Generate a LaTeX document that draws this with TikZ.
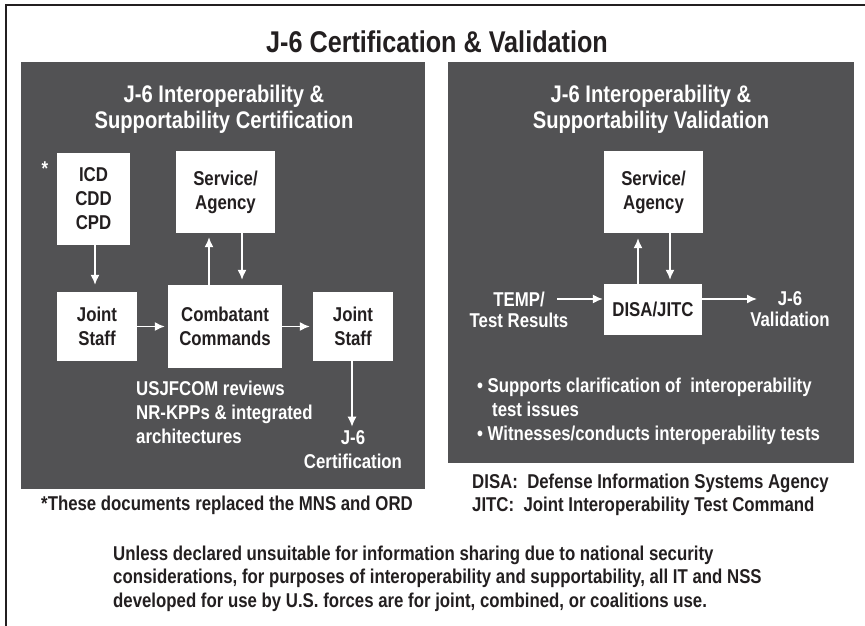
\documentclass[tikz,border=0pt]{standalone}
\usepackage{fontspec}
\setmainfont{Liberation Sans}[FakeStretch=0.84]
\usetikzlibrary{arrows.meta,positioning}
\definecolor{panelgray}{HTML}{525254}
\definecolor{ink}{HTML}{231F20}

\begin{document}
\begin{tikzpicture}[
x=1pt, y=-1pt,
font=\bfseries\fontsize{20}{24}\selectfont,
panel/.style={
  fill=panelgray,
  draw=none,
  inner sep=0pt,
  anchor=north west
  },
box/.style={
  fill=white,
  text=ink,
  align=center,
  inner sep=0pt
  },
lbl/.style={
  text=white,
  align=center,
  inner sep=0pt
  },
note/.style={
  text=ink,
  align=left,
  inner sep=0pt
  },
flow/.style={
  ->,
  draw=white,
  line width=1.5pt
  },
>={Latex[length=10pt,width=9pt]}
]
\useasboundingbox (0,0) rectangle (865,626);
\draw[ink, line width=2.5pt] (865,5) -- (6,5) -- (6,626);

\node[text=ink, font=\bfseries\fontsize{30}{36}\selectfont] (title) at (437,42)
  {J-6 Certification \& Validation};

% certification side
\node[panel, minimum width=404pt, minimum height=427pt] (certpanel) at (21,62) {};
\node[lbl, font=\bfseries\fontsize{24}{26}\selectfont] (certtitle) at (224,109)
  {J-6 Interoperability \&\\Supportability Certification};
\node[lbl] (star) at (45,169) {*};
\node[box, minimum width=73pt, minimum height=92pt] (docs) at (93.5,199) {ICD\\CDD\\CPD};
\node[box, minimum width=99pt, minimum height=82pt] (svcL) at (225.5,192) {Service/\\Agency};
\node[box, minimum width=80pt, minimum height=69pt] (staffL) at (97,326.5) {Joint\\Staff};
\node[box, minimum width=114pt, minimum height=83pt] (cocom) at (225,326.5) {Combatant\\Commands};
\node[box, minimum width=80pt, minimum height=69pt] (staffR) at (353,326.5) {Joint\\Staff};
\node[lbl, align=left, anchor=west] (review) at (136,412)
  {USJFCOM reviews\\NR-KPPs \& integrated\\architectures};
\node[lbl] (certout) at (353,450) {J-6\\Certification};

\draw[flow, shorten >=7pt] ([xshift=1.5pt]docs.south) -- ([xshift=-2pt]staffL.north);
\draw[flow, shorten >=4pt] ([xshift=-16pt]cocom.north) -- ([xshift=-16.5pt]svcL.south);
\draw[flow, shorten >=5pt] ([xshift=16.5pt]svcL.south) -- ([xshift=17pt]cocom.north);
\draw[flow, shorten >=3pt] (staffL) -- (cocom);
\draw[flow, shorten >=3pt] (cocom) -- (staffR);
\draw[flow, shorten >=4pt] ([xshift=-1pt]staffR.south) -- ([xshift=-1pt]certout.north);

% validation side
\node[panel, minimum width=406pt, minimum height=401pt] (valpanel) at (448,62) {};
\node[lbl, font=\bfseries\fontsize{24}{26}\selectfont] (valtitle) at (651,109)
  {J-6 Interoperability \&\\Supportability Validation};
\node[box, minimum width=99pt, minimum height=82pt] (svcR) at (653.5,192) {Service/\\Agency};
\node[box, minimum width=98pt, minimum height=51pt] (disa) at (653,309.5) {DISA/JITC};
\node[lbl, font=\bfseries\fontsize{20}{21}\selectfont] (temp) at (519,309.5) {TEMP/\\Test Results};
\node[lbl, font=\bfseries\fontsize{20}{21}\selectfont] (valout) at (790,309.5) {J-6\\Validation};
\coordinate (tempend) at (557,299);
\coordinate (valend) at (757,299);
\node[lbl, align=left, anchor=west] (tasks) at (477,411)
  {\textbullet\ Supports clarification of\ \ interoperability\\
   \hspace*{15pt}test issues\\
   \textbullet\ Witnesses/conducts interoperability tests};

\draw[flow, shorten >=5pt] ([xshift=-15pt]disa.north) -- ([xshift=-15.5pt]svcR.south);
\draw[flow, shorten >=4pt] ([xshift=16.5pt]svcR.south) -- ([xshift=17pt]disa.north);
\draw[flow, shorten >=1pt] (tempend) -- (disa.west |- tempend);
\draw[flow] (disa.east |- valend) -- (valend);

% notes
\node[note, font=\bfseries\fontsize{20}{23}\selectfont, anchor=west] (acronyms) at (472,494.5)
  {DISA:\ \ Defense Information Systems Agency\\JITC:\ \ Joint Interoperability Test Command};
\node[note] (footnote) at (227,505) {*These documents replaced the MNS and ORD};
\node[note, font=\bfseries\fontsize{20}{23.5}\selectfont, anchor=west] (policy) at (113,578.5)
  {Unless declared unsuitable for information sharing due to national security\\
   considerations, for purposes of interoperability and supportability, all IT and NSS\\
   developed for use by U.S. forces are for joint, combined, or coalitions use.};
\end{tikzpicture}
\end{document}
